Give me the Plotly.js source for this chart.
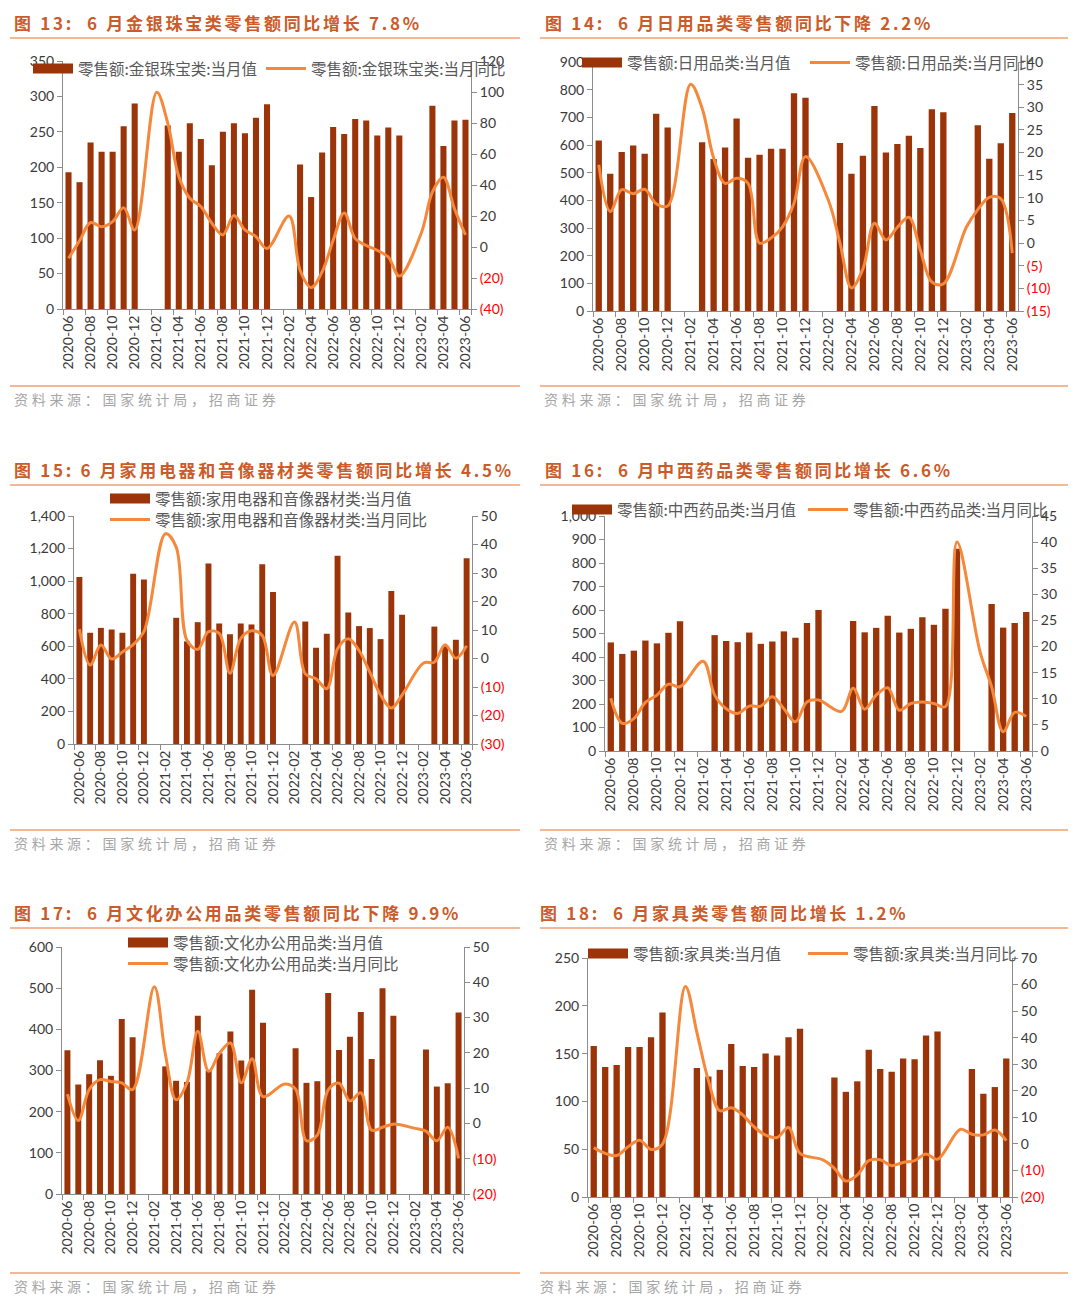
<!DOCTYPE html>
<html><head><meta charset="utf-8">
<script src="https://cdn.plot.ly/plotly-3.0.1.min.js"></script>
<style>
html,body{margin:0;padding:0;background:#fff;}
#chart{width:1080px;height:1308px;}
</style></head><body><div id="chart"></div>
<script>
const months = ['2020-06','2020-07','2020-08','2020-09','2020-10','2020-11','2020-12',
'2021-01','2021-02','2021-03','2021-04','2021-05','2021-06','2021-07','2021-08','2021-09','2021-10','2021-11','2021-12',
'2022-01','2022-02','2022-03','2022-04','2022-05','2022-06','2022-07','2022-08','2022-09','2022-10','2022-11','2022-12',
'2023-01','2023-02','2023-03','2023-04','2023-05','2023-06'];
const tickMonths = months.filter((m,i)=>i%2===0);

// 图13 金银珠宝类
const jewelryValue = [193,179,235,222,222,258,290,null,null,259,222,262,240,203,250,262,248,270,289,null,null,204,158,221,257,247,268,266,245,256,245,null,null,287,230,266,267];
const jewelryYoY = [-7.3,4,15.8,13.1,16.4,25.4,11,null,99.8,79.9,45.5,31.5,26.1,15.3,7.8,20.3,11,6.7,-1,null,20,-15,-26.2,-16,4.3,22,5.4,1,-2.2,-6.5,-18.7,null,9.2,35.5,45,24.7,7.8];
// 图14 日用品类
const dailyValue = [616,496,575,598,568,713,663,null,null,610,549,591,696,554,565,586,586,787,771,null,null,607,496,561,741,573,604,633,589,729,718,null,null,671,550,606,716];
const dailyYoY = [17.3,7,11.8,10.9,11.9,8.7,8.2,null,35.1,29.8,18.8,13.2,14.3,13.2,0,1.1,3.6,8.8,19.1,null,9.4,0,-9.9,-5.7,4.4,0.7,3.5,5.7,-1.6,-8.6,-9,null,3.5,7.4,10.1,9.8,-2.2];
// 图15 家用电器和音像器材类
const applianceValue = [1026,683,713,703,683,1046,1010,null,null,775,630,748,1108,740,674,740,734,1104,933,null,null,752,591,677,1156,808,724,712,644,939,793,null,null,721,600,640,1141];
const applianceYoY = [10.3,-2.3,4.7,-0.2,2.3,4.9,9.4,null,43.8,39.1,6.4,3.2,9.4,8.8,-5.2,7,9.7,8.1,-6,null,12.8,-5.4,-7.1,-10.6,3.4,6.9,2.8,-4.8,-12.8,-17.4,-12.8,null,-1.6,-1.3,4.8,0.1,4.5];
// 图16 中西药品类
const medicineValue = [462,413,427,470,458,503,552,null,null,493,468,463,504,456,466,509,482,545,600,null,null,553,505,524,576,504,520,569,537,605,861,null,null,626,525,545,592];
const medicineYoY = [10.1,5.3,6.2,9.3,10.7,12.8,12.3,null,17.2,10.7,8.1,7.2,8.6,8.6,10.4,8.1,5.6,9.4,9.75,null,7.6,12,8,10.7,12.1,7.8,9.1,9.4,9.1,8.5,40,null,19,12.3,3.7,7.4,6.6];
// 图17 文化办公用品类
const officeValue = [349,266,291,325,287,425,381,null,null,310,275,272,433,300,342,395,324,496,416,null,null,354,270,274,488,350,382,442,328,500,433,null,null,351,261,269,441];
const officeYoY = [8.3,0.8,9.6,12.4,11.9,11.5,9.6,null,38.7,19.9,6.7,11.5,26.1,14.8,19.9,22.8,11.5,18.3,7.6,null,11.2,9.7,-4.9,-3.3,9.5,11.4,6.4,8.7,-1.9,-1.1,-0.2,null,-1.4,-2.2,-4.9,-1.1,-9.9];
// 图18 家具类
const furnitureValue = [158,136,138,157,157,167,193,null,null,135,126,133,160,137,136,150,148,167,176,null,null,125,110,121,154,134,131,145,144,169,173,null,null,134,108,115,145];
const furnitureYoY = [-1.4,-3.6,-4.4,-1.1,1.4,-2.1,-0.1,null,59.3,42,24,12.5,13.6,10.9,6.4,3.3,2.4,6.2,-3.6,null,-6,-9.2,-14,-11.7,-6.3,-6,-8.2,-7,-6.3,-3.8,-5.8,null,5.5,3.6,3.4,5.2,1.2];

const titles = ['图 13:  6 月金银珠宝类零售额同比增长 7.8%','图 14:  6 月日用品类零售额同比下降 2.2%','图 15: 6 月家用电器和音像器材类零售额同比增长 4.5%','图 16:  6 月中西药品类零售额同比增长 6.6%','图 17:  6 月文化办公用品类零售额同比下降 9.9%','图 18:  6 月家具类零售额同比增长 1.2%'];
const barNames = ['零售额:金银珠宝类:当月值','零售额:日用品类:当月值','零售额:家用电器和音像器材类:当月值','零售额:中西药品类:当月值','零售额:文化办公用品类:当月值','零售额:家具类:当月值'];
const lineNames = ['零售额:金银珠宝类:当月同比','零售额:日用品类:当月同比','零售额:家用电器和音像器材类:当月同比','零售额:中西药品类:当月同比','零售额:文化办公用品类:当月同比','零售额:家具类:当月同比'];
const sourceText = '资料来源：国家统计局，招商证券';

const barSeries = [jewelryValue,dailyValue,applianceValue,medicineValue,officeValue,furnitureValue];
const lineSeries = [jewelryYoY,dailyYoY,applianceYoY,medicineYoY,officeYoY,furnitureYoY];

const W=1080,H=1308;
const BAR='#9B3408', LINE='#F5883A', AX='#8C8C8C', TXT='#3A3A3A', TITLE='#CC5B2A', RULE='#F0A070';
const FONT='Lato, "Noto Sans CJK SC", sans-serif';
const CJK='"Noto Sans CJK SC", sans-serif';

// layout geometry per panel (pixels); legs = [bar legend item, line legend item]
const geo = [
 {box:[63,471,61,309], left:[0,350,50], right:[-40,120,20], fmt:'', legs:[{x:28,y:52},{x:261,y:52}], tx:12, ty:22, col:0, row:0},
 {box:[593,1018,62,311], left:[0,900,100], right:[-15,40,5], fmt:'', legs:[{x:577,y:46},{x:805,y:46}], tx:543, ty:22, col:1, row:0},
 {box:[74,472,516,744], left:[0,1400,200], right:[-30,50,10], fmt:',', legs:[{x:105,y:482},{x:105,y:503}], tx:12, ty:469, col:0, row:1},
 {box:[605,1032,516,751], left:[0,1000,100], right:[0,45,5], fmt:',', legs:[{x:567,y:493},{x:803,y:493}], tx:543, ty:469, col:1, row:1},
 {box:[62,464,947,1194], left:[0,600,100], right:[-20,50,10], fmt:'', legs:[{x:123,y:926},{x:123,y:947}], tx:12, ty:912, col:0, row:2},
 {box:[588,1012,958,1197], left:[0,250,50], right:[-20,70,10], fmt:'', legs:[{x:583,y:937},{x:803,y:937}], tx:538, ty:912, col:1, row:2}
];
const ruleTop=[38,485,928], ruleBot=[386,830,1273], srcY=[399,843,1286];

function range(a,b,s){const r=[];for(let v=a;v<=b+1e-9;v+=s)r.push(Math.round(v*100)/100);return r;}
function rLabel(v){return v<0?'<span style="color:#FF0000">('+Math.abs(v)+')</span>':String(v);}

const data=[]; const layout={width:W,height:H,margin:{l:0,r:0,t:0,b:0},paper_bgcolor:'#fff',plot_bgcolor:'rgba(0,0,0,0)',showlegend:true,bargap:0.45,annotations:[],shapes:[],font:{family:FONT,size:14,color:TXT}};

let legCount=0;
function newLegend(spec){
  legCount++;
  const id = legCount===1?'legend':'legend'+legCount;
  layout[id]={x:spec.x/W,y:1-spec.y/H,xanchor:'left',yanchor:'top',orientation:'h',itemwidth:40,bgcolor:'rgba(0,0,0,0)',
    font:{family:CJK,size:15.5,color:'#595959'},tracegroupgap:0,itemclick:false,itemdoubleclick:false};
  return id;
}

geo.forEach((g,i)=>{
  const n=i+1;
  const xa = n===1?'x':'x'+n;
  const yl = 'y'+(2*n-1===1?'':2*n-1);
  const yr = 'y'+(2*n);
  const legA = newLegend(g.legs[0]);
  const legB = newLegend(g.legs[1]);
  data.push({type:'bar',x:months,y:barSeries[i],xaxis:xa,yaxis:yl,marker:{color:BAR},showlegend:false,hoverinfo:'skip'});
  data.push({type:'scatter',mode:'lines',x:[null],y:[null],xaxis:xa,yaxis:yl,line:{color:BAR,width:10},name:barNames[i],legend:legA});
  data.push({type:'scatter',mode:'lines',x:months,y:lineSeries[i],xaxis:xa,yaxis:yr,connectgaps:true,line:{color:LINE,width:3,shape:'spline',smoothing:1},name:lineNames[i],legend:legB});
  const [x0,x1,y0,y1]=g.box;
  const xKey = n===1?'xaxis':'xaxis'+n;
  const ylKey = (2*n-1)===1?'yaxis':'yaxis'+(2*n-1);
  const yrKey = 'yaxis'+(2*n);
  layout[xKey]={domain:[x0/W,x1/W],anchor:yl,type:'category',categoryorder:'array',categoryarray:months,range:[-0.5,36.5],
    tickmode:'array',tickvals:tickMonths,ticktext:tickMonths,tickson:'boundaries',tickangle:-90,ticks:'outside',ticklen:5,tickcolor:AX,
    showline:true,linecolor:AX,linewidth:1,showgrid:false,zeroline:false,tickfont:{family:FONT,size:14,color:TXT},fixedrange:true};
  layout[ylKey]={domain:[1-y1/H,1-y0/H],anchor:xa,range:[g.left[0],g.left[1]],tickmode:'array',tickvals:range(g.left[0],g.left[1],g.left[2]),
    ticktext:range(g.left[0],g.left[1],g.left[2]).map(v=>g.fmt===','?v.toLocaleString('en-US'):String(v)),
    ticks:'outside',ticklen:5,tickcolor:AX,showline:true,linecolor:AX,linewidth:1,showgrid:false,zeroline:false,tickfont:{family:FONT,size:14,color:TXT},fixedrange:true};
  const rv=range(g.right[0],g.right[1],g.right[2]);
  layout[yrKey]={overlaying:yl,side:'right',anchor:xa,range:[g.right[0],g.right[1]],tickmode:'array',tickvals:rv,ticktext:rv.map(rLabel),
    ticks:'outside',ticklen:5,tickcolor:AX,showline:true,linecolor:AX,linewidth:1,showgrid:false,zeroline:false,tickfont:{family:FONT,size:14,color:TXT},fixedrange:true};
  layout.annotations.push({xref:'paper',yref:'paper',x:g.tx/W,y:1-g.ty/H,xanchor:'left',yanchor:'middle',align:'left',showarrow:false,
    text:titles[i],font:{family:CJK,size:17,color:TITLE,weight:'bold'}});
});
geo.forEach((g,i)=>{
  const lx = g.col===0?12:(i===5?538:542);
  layout.annotations.push({xref:'paper',yref:'paper',x:lx/W,y:1-srcY[g.row]/H,xanchor:'left',yanchor:'middle',align:'left',showarrow:false,
    text:sourceText,font:{family:CJK,size:14,color:'#A6A6A6'}});
});
[0,1,2].forEach(r=>{
  [[10,520],[540,1068]].forEach(([a,b])=>{
    layout.shapes.push({type:'line',xref:'paper',yref:'paper',x0:a/W,x1:b/W,y0:1-ruleTop[r]/H,y1:1-ruleTop[r]/H,line:{color:RULE,width:1.5}});
    layout.shapes.push({type:'line',xref:'paper',yref:'paper',x0:a/W,x1:b/W,y0:1-ruleBot[r]/H,y1:1-ruleBot[r]/H,line:{color:RULE,width:1.5}});
  });
});

Plotly.newPlot('chart',data,layout,{staticPlot:true,displayModeBar:false}).then(gd=>{
  gd.querySelectorAll('g.annotation').forEach(a=>{
    const idx=+a.getAttribute('data-index');
    const t=a.querySelector('text');
    if(t) t.style.letterSpacing = idx<6 ? '2.7px' : '3.7px';
  });
});
</script></body></html>
